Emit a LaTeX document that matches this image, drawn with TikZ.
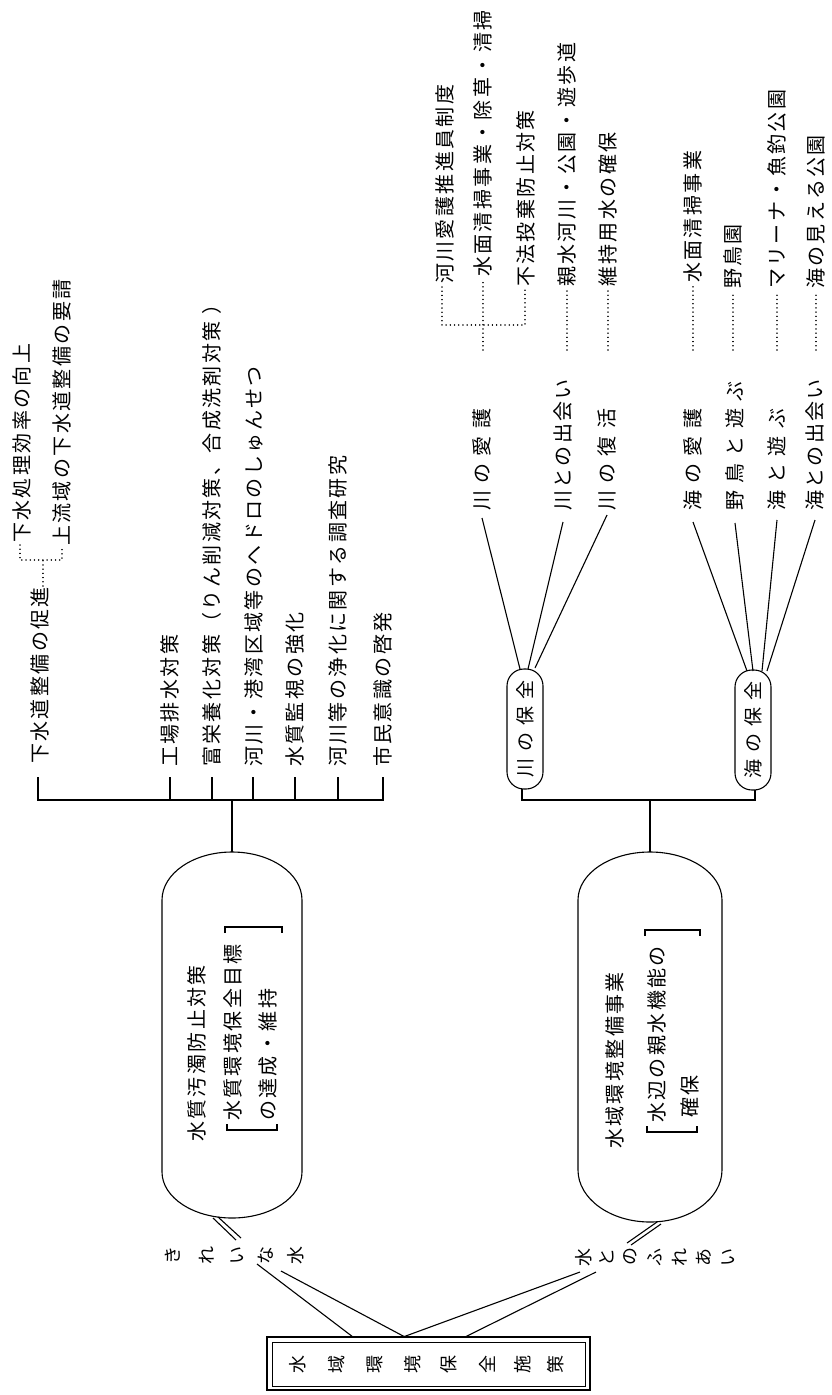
\documentclass[tikz,border=0pt]{standalone}
\usepackage{fontspec}
\newfontfamily\jpA[LetterSpace=12]{Noto Sans CJK JP}
\newfontfamily\jpB[LetterSpace=37]{Noto Sans CJK JP}
\newfontfamily\jpC{Noto Sans CJK JP}
\begin{document}
\begin{tikzpicture}[x=1pt,y=-1pt,
 ln/.style={line width=1.1pt},
 dl/.style={line width=1.5pt, dash pattern=on 0.01pt off 4.2pt, line cap=round},
 lab/.style={rotate=90, anchor=west, inner sep=0pt, font=\fontsize{20}{23}\selectfont\jpA},
 wlab/.style={lab, font=\fontsize{20}{23}\selectfont\jpB},
 ch/.style={rotate=90, inner sep=0pt, font=\fontsize{18}{21}\selectfont\jpC},
 stad/.style={rotate=90, draw, line width=1.1pt, rounded corners=17pt, minimum width=120pt, minimum height=36pt, inner sep=0pt, font=\fontsize{19}{22}\selectfont\jpB}]
\fill[white] (0,0) rectangle (832,1395);
\useasboundingbox (0,0) rectangle (832,1395);

% ---------- root ----------
\node[draw, line width=1.5pt, minimum width=323pt, minimum height=53pt, inner sep=0pt] (root) at (428.5,1363.5) {};
\node[draw, line width=0.9pt, minimum width=313pt, minimum height=44pt, inner sep=0pt] (rootin) at (428.5,1364) {};
\node[ch] (r1) at (298,1364) {水};
\node[ch] (r2) at (337,1364) {域};
\node[ch] (r3) at (375,1364) {環};
\node[ch] (r4) at (413,1364) {境};
\node[ch] (r5) at (449,1364) {保};
\node[ch] (r6) at (487,1364) {全};
\node[ch] (r7) at (523,1364) {施};
\node[ch] (r8) at (556,1364) {策};

% ---------- vertical labels ----------
\node[ch] (k1) at (173,1255) {き};
\node[ch] (k2) at (207,1255) {れ};
\node[ch] (k3) at (237,1255) {い};
\node[ch] (k4) at (266,1255) {な};
\node[ch] (k5) at (296,1255) {水};
\node[ch] (m1) at (584,1257) {水};
\node[ch] (m2) at (607,1257) {と};
\node[ch] (m3) at (630,1256) {の};
\node[ch] (m4) at (655,1257) {ふ};
\node[ch] (m5) at (680,1257) {れ};
\node[ch] (m6) at (704,1257) {あ};
\node[ch] (m7) at (728,1257) {い};

% root connectors
\coordinate (ra) at (353,1337); \coordinate (rb) at (405,1337);
\coordinate (rc) at (403,1337); \coordinate (rd) at (465,1337);
\coordinate (ka) at (257,1264); \coordinate (kb) at (281,1271);
\coordinate (ma) at (580,1272); \coordinate (mb) at (596,1272);
\draw[ln] (ra) -- (ka);
\draw[ln] (rb) -- (kb);
\draw[ln] (rc) -- (ma);
\draw[ln] (rd) -- (mb);

% ---------- ovals ----------
\node[minimum width=140pt, minimum height=366pt, inner sep=0pt] (ovA) at (232,1035) {};
\node[minimum width=144pt, minimum height=370pt, inner sep=0pt] (ovB) at (650,1037) {};
\draw[ln] (162,900) arc[start angle=180,end angle=0,x radius=70pt,y radius=48pt]
  -- (302,1172) arc[start angle=0,end angle=-180,x radius=70pt,y radius=46pt] -- cycle;
\draw[ln] (578,900) arc[start angle=180,end angle=0,x radius=72pt,y radius=48pt]
  -- (722,1170) arc[start angle=0,end angle=-180,x radius=72pt,y radius=52pt] -- cycle;

% oval -> label double links
\coordinate (oa1) at (213,1218); \coordinate (ka1) at (236,1240);
\coordinate (oa2) at (218,1217); \coordinate (ka2) at (241,1238);
\coordinate (ob1) at (657,1222); \coordinate (mb1) at (627,1243);
\coordinate (ob2) at (661,1224); \coordinate (mb2) at (631,1245);
\draw[ln] (oa1) -- (ka1); \draw[ln] (oa2) -- (ka2);
\draw[ln] (ob1) -- (mb1); \draw[ln] (ob2) -- (mb2);

% oval texts
\node[lab] (tA1) at (197,1142) {水質汚濁防止対策};
\node[lab] (tA2) at (233,1121) {水質環境保全目標};
\node[lab] (tA3) at (268,1121) {の達成・維持};
\draw[ln] (227,1124) -- (227,1130) -- (277,1130) -- (277,1124);
\draw[ln] (225,933) -- (225,927) -- (282,927) -- (282,933);

\node[lab] (tB1) at (615,1149) {水域環境整備事業};
\node[lab] (tB2) at (657,1123) {水辺の親水機能の};
\node[lab] (tB3) at (690,1118) {確保};
\draw[ln] (647,1126) -- (647,1132) -- (697,1132) -- (697,1126);
\draw[ln] (645,936) -- (645,930) -- (700,930) -- (700,936);

% ---------- tree 1 ----------
\coordinate (h1a) at (38,800); \coordinate (h1g) at (383,800);
\coordinate (j1) at (232,800);
\draw[ln] (38,777) -- (h1a) -- (h1g) -- (383,777);
\foreach \x in {170,212,253,295,338} \draw[ln] (\x,800) -- (\x,777);
\draw[ln] (j1) -- (ovA.north);

\node[lab] (a1) at (40,764) {下水道整備の促進};
\node[lab] (a2) at (170,767) {工場排水対策};
\node[lab] (a3) at (212,767) {富栄養化対策（りん削減対策、合成洗剤対策 ）};
\node[lab] (a4) at (254,767) {河川・港湾区域等のヘドロのしゅんせつ};
\node[lab] (a5) at (295,767) {水質監視の強化};
\node[lab] (a6) at (338,767) {河川等の浄化に関する調査研究};
\node[lab] (a7) at (383,767) {市民意識の啓発};

\draw[dl] (43,586) -- (43,560);
\draw[dl] (20,545) -- (20,560) -- (62,560) -- (62,548);
\node[lab] (a11) at (22,543) {下水処理効率の向上};
\node[lab] (a12) at (62,546) {上流域の下水道整備の要請};

% ---------- tree 2 ----------
\node[stad] (kawa) at (525,729) {川の保全};
\node[stad] (umi) at (753,730) {海の保全};
\coordinate (h2a) at (522,800); \coordinate (h2b) at (755,800);
\coordinate (j2) at (650,800);
\draw[ln] (522,789) -- (h2a) -- (h2b) -- (755,790);
\draw[ln] (j2) -- (ovB.north);

\node[wlab] (b1) at (482,511) {川の愛護};
\node[lab]  (b2) at (563,511) {川との出会い};
\node[wlab] (b3) at (607,511) {川の復活};
\node[wlab] (c1) at (693,511) {海の愛護};
\node[wlab] (c2) at (735,511) {野鳥と遊ぶ};
\node[wlab] (c3) at (777,511) {海と遊ぶ};
\node[lab]  (c4) at (815,511) {海との出会い};

\draw[ln] (520,669) -- (482,518);
\draw[ln] (528,669) -- (563,522);
\draw[ln] (535,668) -- (607,515);
\draw[ln] (747,671) -- (693,522);
\draw[ln] (753,671) -- (735,523);
\draw[ln] (762,671) -- (777,520);
\draw[ln] (767,671) -- (815,520);

\draw[dl] (483,350) -- (483,280);
\draw[dl] (442,287) -- (442,325) -- (525,325) -- (525,290);
\node[lab] (d1) at (445,284) {河川愛護推進員制度};
\node[lab] (d2) at (483,277) {水面清掃事業・除草・清掃};
\node[lab] (d3) at (526,287) {不法投棄防止対策};
\draw[dl] (567,350) -- (567,290);
\node[lab] (d4) at (567,287) {親水河川・公園・遊歩道};
\draw[dl] (608,350) -- (608,290);
\node[lab] (d5) at (608,287) {維持用水の確保};
\draw[dl] (693,350) -- (693,286);
\node[lab] (e1) at (693,283) {水面清掃事業};
\draw[dl] (733,350) -- (733,292);
\node[lab] (e2) at (733,289) {野鳥園};
\draw[dl] (777,350) -- (777,292);
\node[lab] (e3) at (777,289) {マリーナ・魚釣公園};
\draw[dl] (816,350) -- (816,292);
\node[lab] (e4) at (816,289) {海の見える公園};
\end{tikzpicture}
\end{document}
